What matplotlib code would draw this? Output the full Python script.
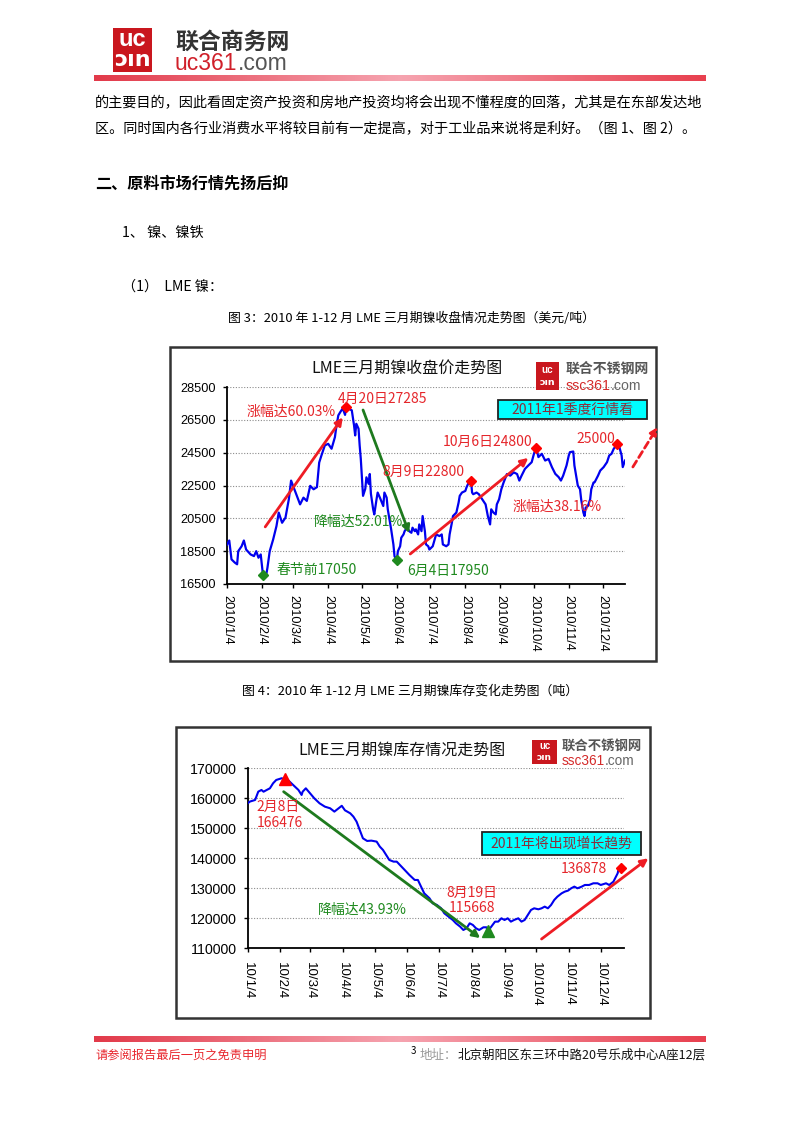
import matplotlib
matplotlib.use('Agg')
import matplotlib.pyplot as plt
from matplotlib.patches import Rectangle
from matplotlib.colors import LinearSegmentedColormap
import matplotlib.dates as mdates
import numpy as np
import pandas as pd

plt.rcParams['font.family'] = ['Noto Sans CJK SC', 'DejaVu Sans']
plt.rcParams['axes.unicode_minus'] = False

# ---------------- 数据 ----------------
# LME三月期镍收盘价 (美元/吨), 2010
price_dates = ['01-04', '01-06', '01-08', '01-11', '01-13', '01-14', '01-17', '01-19', '01-21', '01-25',
               '01-28', '01-30', '02-01', '02-03', '02-05', '02-08', '02-09', '02-11', '02-14', '02-17',
               '02-19', '02-22', '02-25', '02-28', '03-02', '03-06', '03-10', '03-13', '03-16', '03-19',
               '03-22', '03-25', '03-27', '03-29', '04-01', '04-04', '04-07', '04-10', '04-11', '04-13',
               '04-15', '04-17', '04-19', '04-20', '04-22', '04-25', '04-27', '04-28', '04-29', '05-01',
               '05-02', '05-03', '05-05', '05-07', '05-08', '05-10', '05-11', '05-12', '05-14', '05-15',
               '05-17', '05-18', '05-20', '05-23', '05-24', '05-26', '05-27', '05-29', '05-30', '06-01',
               '06-02', '06-04', '06-05', '06-07', '06-08', '06-10', '06-11', '06-13', '06-15', '06-17',
               '06-18', '06-20', '06-21', '06-23', '06-24', '06-26', '06-27', '06-29', '06-30', '07-02',
               '07-03', '07-06', '07-09', '07-12', '07-14', '07-15', '07-18', '07-20', '07-21', '07-23',
               '07-24', '07-27', '07-29', '07-30', '08-01', '08-04', '08-05', '08-07', '08-09', '08-10',
               '08-11', '08-14', '08-16', '08-19', '08-22', '08-24', '08-26', '08-27', '08-29', '08-31',
               '09-01', '09-03', '09-05', '09-07', '09-10', '09-13', '09-16', '09-19', '09-21', '09-23',
               '09-26', '09-29', '10-02', '10-04', '10-06', '10-08', '10-11', '10-14', '10-17', '10-20',
               '10-23', '10-26', '10-28', '10-30', '11-02', '11-04', '11-05', '11-08', '11-09', '11-11',
               '11-12', '11-14', '11-15', '11-17', '11-18', '11-19', '11-21', '11-23', '11-24', '11-26',
               '11-27', '11-30', '12-02', '12-05', '12-08', '12-10', '12-12', '12-14', '12-17', '12-19',
               '12-21', '12-22', '12-24']
price_values = [18900, 19150, 18000, 17800, 17700, 18500, 18800, 19150, 18600, 18300,
                18200, 18500, 18100, 18300, 17050, 17100, 17500, 18500, 19200, 20030,
                20850, 20230, 20540, 21660, 22800, 22070, 21350, 21760, 21560, 22480,
                22270, 22400, 23900, 24330, 24940, 25040, 24740, 25450, 25960, 26770,
                27000, 27200, 26800, 27285, 27180, 27080, 26160, 25550, 26260, 25960,
                24940, 24120, 21870, 22300, 23000, 22600, 23200, 22000, 21050, 20740,
                21660, 22070, 21760, 21250, 22070, 21760, 21050, 20230, 19830, 18910,
                18190, 17950, 18500, 18800, 19320, 19520, 19720, 19930, 19720, 19620,
                19930, 19720, 19830, 19520, 20130, 19720, 20640, 19720, 18910, 18800,
                18600, 18800, 19520, 19420, 19520, 18910, 18800, 18910, 19520, 20230,
                20640, 20850, 21460, 21870, 22070, 22170, 22380, 22680, 22800, 22070,
                21970, 22070, 21970, 21660, 21350, 20640, 20130, 21050, 20850, 20740,
                21350, 21660, 22270, 22680, 23200, 23100, 23300, 23200, 22800, 23100,
                23510, 23720, 23920, 24430, 24800, 24230, 24430, 24020, 24120, 23620,
                23210, 23010, 22800, 23100, 23720, 24330, 24530, 24570, 23720, 22900,
                22500, 22270, 21660, 20850, 20640, 21150, 21250, 21660, 22270, 22680,
                22700, 23100, 23410, 23620, 23920, 24330, 24430, 24740, 25000, 24840,
                24330, 23620, 24020]
price_high_dates = ['04-20', '08-09', '10-06', '12-17']
price_high_values = [27285, 22800, 24800, 25000]
price_low_dates = ['02-05', '06-04']
price_low_values = [17050, 17950]

# LME镍库存 (吨), 2010
stock_dates = ['01-04', '01-06', '01-11', '01-14', '01-17', '01-19', '01-22', '01-25', '01-28', '01-31',
               '02-05', '02-08', '02-11', '02-16', '02-21', '02-24', '02-25', '02-28', '03-04', '03-08',
               '03-13', '03-18', '03-23', '03-27', '03-31', '04-03', '04-06', '04-11', '04-14', '04-17',
               '04-20', '04-23', '04-27', '05-01', '05-06', '05-09', '05-12', '05-18', '05-22', '05-25',
               '05-28', '05-31', '06-03', '06-06', '06-11', '06-14', '06-17', '06-20', '06-25', '06-28',
               '07-02', '07-06', '07-09', '07-13', '07-17', '07-20', '07-24', '07-27', '07-30', '08-02',
               '08-05', '08-08', '08-11', '08-15', '08-18', '08-19', '08-22', '08-26', '08-29', '09-01',
               '09-04', '09-07', '09-10', '09-13', '09-17', '09-20', '09-23', '09-26', '09-29', '10-02',
               '10-06', '10-09', '10-12', '10-15', '10-18', '10-21', '10-24', '10-28', '10-31', '11-03',
               '11-06', '11-09', '11-12', '11-16', '11-19', '11-23', '11-27', '12-01', '12-04', '12-09',
               '12-12', '12-16', '12-20', '12-21', '12-23']
stock_values = [158330, 158900, 159440, 162220, 162780, 162200, 162780, 163330, 165000, 166110,
                166670, 166476, 166110, 164440, 162780, 161110, 162220, 163330, 161670, 160000,
                158330, 157220, 156670, 155560, 156670, 157500, 156000, 155000, 153890, 152220,
                149440, 146670, 145780, 145890, 145560, 143890, 142780, 139440, 138890, 138890,
                137780, 136670, 135560, 134440, 132780, 132780, 130560, 128330, 126670, 125000,
                124440, 123330, 121670, 120560, 119440, 118330, 117220, 116110, 116670, 118330,
                117780, 116670, 116110, 117000, 117000, 115668, 117000, 118890, 118890, 120000,
                119440, 120000, 118890, 119440, 120000, 118890, 119440, 121110, 122780, 123330,
                123000, 123330, 123890, 123330, 124440, 126110, 127220, 128330, 128890, 129220,
                130000, 130560, 130000, 130560, 131110, 131110, 131670, 131670, 131110, 131670,
                131110, 132220, 135000, 136670, 136878]
stock_high = ('02-08', 166476)
stock_low = ('08-19', 115668)
stock_last = ('12-23', 136878)

month_ticks = ['01-04', '02-04', '03-04', '04-04', '05-04', '06-04',
               '07-04', '08-04', '09-04', '10-04', '11-04', '12-04']

body_line1 = '的主要目的，因此看固定资产投资和房地产投资均将会出现不懂程度的回落，尤其是在东部发达地'
body_line2 = '区。同时国内各行业消费水平将较目前有一定提高，对于工业品来说将是利好。（图 1、图 2）。'

RED = '#e5262b'
GREEN = '#1f8a1f'
BLUE = '#0000ee'
CJK = ['Noto Sans CJK SC', 'DejaVu Sans']


def d(s):
    return pd.Timestamp('2010-' + s) if len(s) == 5 else pd.Timestamp(s)


# ---------------- 画布 ----------------
W, H = 800, 1132
fig = plt.figure(figsize=(W / 100, H / 100), dpi=100)
renderer = fig.canvas.get_renderer()


def fx(x):
    return x / W


def fy(y):
    return 1 - y / H


def put(x, y, s, size, color='black', ha='left', weight='normal', family=None, z=3):
    return fig.text(fx(x), fy(y), s, fontsize=size, color=color, ha=ha, va='center',
                    fontweight=weight, family=family or CJK, zorder=z)


def box(x0, y0, x1, y1, face='white', edge='black', lw=1.0, z=-2):
    r = Rectangle((fx(x0), fy(y1)), (x1 - x0) / W, (y1 - y0) / H, transform=fig.transFigure,
                  facecolor=face, edgecolor=edge, linewidth=lw, zorder=z)
    fig.add_artist(r)
    return r


def two_tone(x, y, parts, size, weight='normal', family=None):
    for s, c in parts:
        t = put(x, y, s, size, color=c, weight=weight, family=family)
        x += t.get_window_extent(renderer).width


bar_cmap = LinearSegmentedColormap.from_list('bar', ['#e23a4a', '#f6a4b0', '#e8404f'])


def grad_bar(y0, y1):
    bax = fig.add_axes([fx(94), fy(y1), (705 - 94) / W, (y1 - y0) / H])
    bax.imshow(np.linspace(0, 1, 300).reshape(1, -1), cmap=bar_cmap, aspect='auto')
    bax.set_axis_off()


def small_logo(x0, y0, x1, y1, tx, ty1, ty2, size):
    box(x0, y0, x1, y1, face='#c9171e', edge='none', z=2)
    put((x0 + x1) / 2, y0 + (y1 - y0) * 0.27, 'uc', size * 0.72, color='white', ha='center',
        weight='bold', family='Liberation Sans')
    put((x0 + x1) / 2, y0 + (y1 - y0) * 0.73, 'ɔın', size * 0.68, color='white', ha='center',
        weight='bold', family='DejaVu Sans')
    put(tx, ty1, '联合不锈钢网', size, color='#555555', weight='bold')
    two_tone(tx, ty2, [('ssc361', '#d42a2a'), ('.com', '#666666')], size * 1.02, family='Liberation Sans')


# ---------------- 页眉 ----------------
box(113, 28, 152, 72, face='#c9171e', edge='none', z=2)
put(132.5, 40, 'uc', 17, color='white', ha='center', weight='bold', family='Liberation Sans')
put(132.5, 60, 'ɔın', 16, color='white', ha='center', weight='bold', family='DejaVu Sans')
put(175, 42, '联合商务网', 16.5, color='#333333', weight='bold')
two_tone(175, 64, [('uc361', '#d0202a'), ('.com', '#555555')], 16.5, family='Liberation Sans')
grad_bar(75, 81)

# ---------------- 正文 ----------------
put(95, 103, body_line1, 10.2)
put(95, 129, body_line2, 10.2)
put(95, 184, '二、原料市场行情先扬后抑', 11.6, weight='bold')
put(122, 233, '1、 镍、镍铁', 10.2)
put(122, 287, '（1）  LME 镍：', 10.2)
put(411, 318, '图 3：2010 年 1-12 月 LME 三月期镍收盘情况走势图（美元/吨）', 9.3, ha='center')
put(410, 691, '图 4：2010 年 1-12 月 LME 三月期镍库存变化走势图（吨）', 9.3, ha='center')


def style_axes(ax, yticks, xlim, label_fmt, ysize, xsize, xpad):
    ax.patch.set_visible(False)
    ax.set_ylim(yticks[0], yticks[-1])
    ax.set_yticks(yticks)
    ax.set_xlim(d(xlim[0]), d(xlim[1]))
    ticks = [d(t) for t in month_ticks]
    ax.set_xticks(ticks)
    ax.set_xticklabels([label_fmt(t) for t in ticks], rotation=270, fontsize=xsize,
                       family='Liberation Sans')
    for lab in ax.get_yticklabels():
        lab.set_family('Liberation Sans')
        lab.set_fontsize(ysize)
    ax.tick_params(axis='y', direction='out', length=3, width=1, pad=5)
    ax.tick_params(axis='x', direction='out', length=3, width=1, pad=xpad)
    ax.grid(axis='y', linestyle=(0, (1, 1.5)), color='#8c8c8c', linewidth=0.8)
    ax.set_axisbelow(True)
    for side in ['top', 'right']:
        ax.spines[side].set_visible(False)
    for side in ['left', 'bottom']:
        ax.spines[side].set_linewidth(1.3)
        ax.spines[side].set_color('black')


def arrow(ax, start, end, color, lw=2.0, ls='-', head=True):
    ax.annotate('', xy=(d(end[0]), end[1]), xytext=(d(start[0]), start[1]),
                arrowprops=dict(arrowstyle='-|>' if head else '-', color=color, lw=lw,
                                linestyle=ls, mutation_scale=11, shrinkA=0, shrinkB=0),
                annotation_clip=False)


# ---------------- 图3 镍价 ----------------
box(170, 347, 656, 661, face='white', edge='#333333', lw=1.8)
ax1 = fig.add_axes([fx(227), fy(584), (625 - 227) / W, (584 - 387) / H])
ax1.plot([d(s) for s in price_dates], price_values, color=BLUE, lw=1.6, zorder=3)
ax1.plot([d(s) for s in price_high_dates], price_high_values, 'D', color='#ff0000', ms=5.5,
         zorder=4, clip_on=False)
ax1.plot([d(s) for s in price_low_dates], price_low_values, 'D', color=GREEN, ms=5.5,
         zorder=4, clip_on=False)
style_axes(ax1, list(range(16500, 28501, 2000)), ('01-04', '12-24'),
           lambda t: f'{t.year}/{t.month}/{t.day}', 9.2, 9.2, 5)

arrow(ax1, ('02-07', 19980), ('04-17', 26650), '#ee1c24')
arrow(ax1, ('05-05', 27100), ('06-15', 19600), '#1e7a1e')
arrow(ax1, ('06-16', 18330), ('09-29', 24180), '#ee1c24')
arrow(ax1, ('12-31', 23630), ('2011-01-22', 26060), '#ee1c24', ls=(0, (2.5, 1.5)))

put(407, 368, 'LME三月期镍收盘价走势图', 11.5, color='#111111', ha='center')
small_logo(536, 362, 559, 390, 566, 369, 386, 10)
put(291, 412, '涨幅达60.03%', 10, color=RED, ha='center')
put(383, 399, '4月20日27285', 10, color=RED, ha='center')
box(498, 400, 647, 419, face='#00ffff', edge='#222222', lw=1.3, z=2)
put(572.5, 409.5, '2011年1季度行情看', 10, color='#8b2e3a', ha='center')
put(488, 442, '10月6日24800', 10, color=RED, ha='center')
put(596, 439, '25000', 10, color=RED, ha='center')
put(423, 472, '8月9日22800', 10, color=RED, ha='center')
put(359, 522, '降幅达52.01%', 10, color=GREEN, ha='center')
put(557, 507, '涨幅达38.16%', 10, color=RED, ha='center')
put(317, 570, '春节前17050', 10, color=GREEN, ha='center')
put(448, 571, '6月4日17950', 10, color=GREEN, ha='center')

# ---------------- 图4 镍库存 ----------------
box(176, 727, 650, 1018, face='white', edge='#333333', lw=1.8)
ax2 = fig.add_axes([fx(247.7), fy(948.3), (624 - 247.7) / W, 180 / H])
ax2.plot([d(s) for s in stock_dates], stock_values, color=BLUE, lw=1.5, zorder=3)
ax2.plot([d(stock_high[0])], [stock_high[1]], '^', color='#ff0000', ms=8, zorder=4, clip_on=False)
ax2.plot([d(stock_low[0])], [stock_low[1]], '^', color=GREEN, ms=8, zorder=4, clip_on=False)
ax2.plot([d(stock_last[0])], [stock_last[1]], 'D', color='#ff0000', ms=5.5, zorder=4, clip_on=False)
style_axes(ax2, list(range(110000, 170001, 10000)), ('01-04', '12-26'),
           lambda t: f'{t.year % 100}/{t.month}/{t.day}', 10.2, 9.6, 7)

arrow(ax2, ('02-07', 162200), ('08-12', 113400), '#1e7a1e')
arrow(ax2, ('10-09', 113100), ('2011-01-18', 140000), '#ee1c24')

put(402, 750, 'LME三月期镍库存情况走势图', 11.5, color='#111111', ha='center')
small_logo(532, 740, 557, 764, 562, 746, 761, 9.6)
put(278.5, 807, '2月8日', 10, color=RED, ha='center')
put(279.5, 823, '166476', 10, color=RED, ha='center')
put(362.5, 910, '降幅达43.93%', 10, color=GREEN, ha='center')
put(472, 893, '8月19日', 10, color=RED, ha='center')
put(472, 908, '115668', 10, color=RED, ha='center')
box(482, 832, 641, 855, face='#00ffff', edge='#222222', lw=1.3, z=2)
put(561.5, 843.5, '2011年将出现增长趋势', 10, color='#8b2e3a', ha='center')
put(584, 869, '136878', 10, color=RED, ha='center')

# ---------------- 页脚 ----------------
grad_bar(1036, 1042)
put(95, 1055, '请参阅报告最后一页之免责申明', 8.8, color='#e8262d')
put(411, 1051, '3', 7)
two_tone(420, 1055, [('地址：', '#999999'), ('北京朝阳区东三环中路20号乐成中心A座12层', '#111111')], 9)

fig.savefig('out.png', dpi=100)
